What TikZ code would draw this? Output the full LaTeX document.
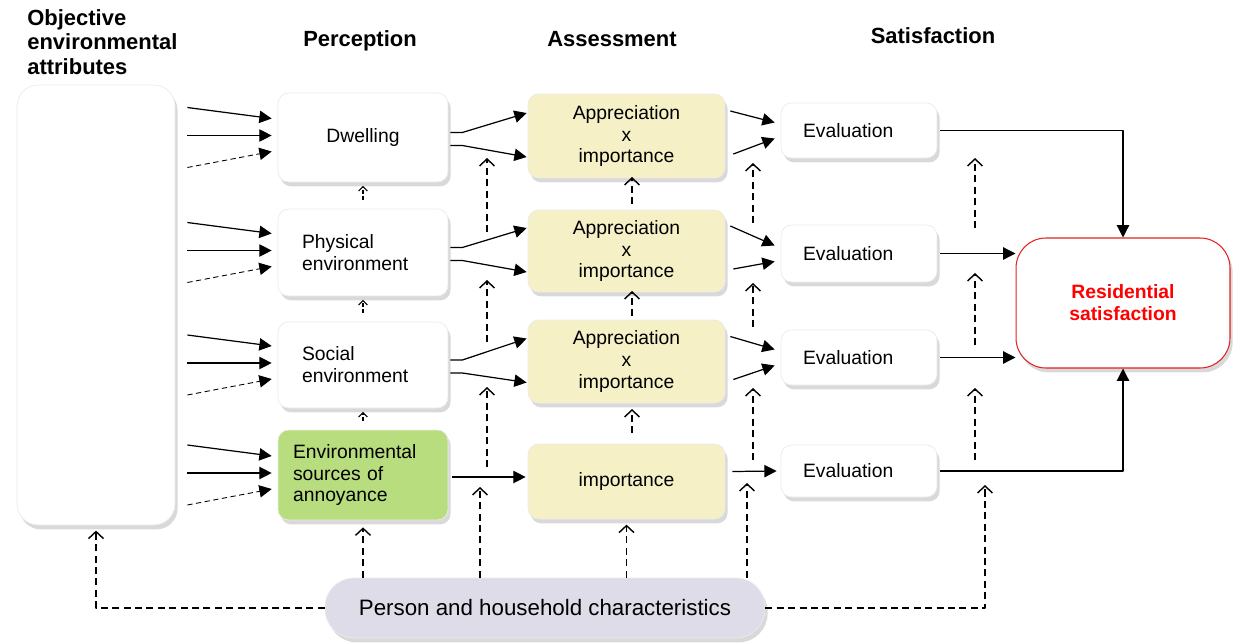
\documentclass[tikz,border=0pt]{standalone}
\usepackage{fontspec}
\setmainfont{Liberation Sans}
\usetikzlibrary{arrows.meta,shadows,calc}
\definecolor{boxgreen}{RGB}{184,221,126}
\definecolor{boxyellow}{RGB}{245,240,198}
\definecolor{boxgrey}{RGB}{222,220,232}
\definecolor{resred}{RGB}{225,35,35}
\newcommand \mydashup[3]
{
\coordinate (d1) at (#1,#2);
\coordinate (d2) at (#1,#3);
\draw[darr] (d1)--(d2);
}
\begin{document}
\begin{tikzpicture}[x=0.02cm, y=-0.02cm, line join=round,
  font=\fontsize{11}{12.5}\selectfont,
  box/.style={rounded corners=6pt, draw=black!8, fill=white, align=center, inner sep=2pt,
    drop shadow={shadow xshift=1.5pt, shadow yshift=-2.5pt, opacity=.3}},
  percbox/.style={box, inner xsep=0.48cm, text width=2.44cm, align=left},
  assbox/.style={box, fill=boxyellow, minimum width=3.94cm},
  evalbox/.style={box, inner xsep=0.44cm, text width=2.24cm, align=left, minimum height=1.1cm},
  head/.style={font=\fontsize{12.5}{13.9}\selectfont\bfseries},
  arr/.style={-{Triangle[length=7pt,width=7pt]}, line width=.7pt},
  darr/.style={dash pattern=on 4pt off 2.5pt, -{Straight Barb[length=4pt,width=8.5pt]}, line width=.8pt},
  tinyarr/.style={darr, -{Straight Barb[length=2.5pt,width=5pt]}, dash pattern=on 2pt off 1.5pt, line width=.6pt}]
\useasboundingbox (0,0) rectangle (1247,643);
% column titles
\node[head, align=left, anchor=north west, inner sep=0pt] (tobj) at (27,9) {Objective\\environmental\\attributes};
\node[head] (tperc) at (360,41) {Perception};
\node[head] (tass) at (612,39) {Assessment};
\node[head] (tsat) at (933,36) {Satisfaction};
% boxes
\node[box, rounded corners=12pt, minimum width=3.16cm, minimum height=8.8cm] (obj) at (96,305) {};
\node[percbox, align=center, minimum height=1.78cm] (dw) at (363,137.5) {Dwelling};
\node[percbox, minimum height=1.74cm] (ph) at (363,252.5) {Physical\\environment};
\node[percbox, minimum height=1.72cm] (so) at (363,365) {Social\\environment};
\node[percbox, inner xsep=0.3cm, text width=2.8cm, fill=boxgreen, minimum height=1.8cm] (en) at (363,475) {Environmental\\sources of\\annoyance};
\node[assbox, minimum height=1.68cm] (a1) at (626.5,136) {Appreciation\\x\\importance};
\node[assbox, minimum height=1.64cm] (a2) at (626.5,251) {Appreciation\\x\\importance};
\node[assbox, minimum height=1.66cm] (a3) at (626.5,361.5) {Appreciation\\x\\importance};
\node[assbox, minimum height=1.5cm] (a4) at (626.5,481.5) {importance};
\node[evalbox] (e1) at (859,130.5) {Evaluation};
\node[evalbox, minimum height=1.14cm] (e2) at (859,253.5) {Evaluation};
\node[evalbox] (e3) at (859,357.5) {Evaluation};
\node[evalbox, minimum height=1.04cm] (e4) at (859,471) {Evaluation};
\node[box, draw=resred, line width=.6pt, rounded corners=17pt, minimum width=4.28cm, minimum height=2.6cm,
  text=red, font=\fontsize{11}{12.5}\selectfont\bfseries] (res) at (1123,303) {Residential\\satisfaction};
\node[box, fill=boxgrey, rounded corners=16.5pt, minimum width=8.8cm, minimum height=1.2cm,
  font=\fontsize{12.7}{14}\selectfont] (pers) at (545,608) {Person and household characteristics};
% attributes to perception
\foreach \p in {dw,ph,so,en}{
  \draw[arr] ($(obj.east |- \p.west)+(12,-30)$) -- ($(\p.west)+(-6,-19)$);
  \draw[arr] ($(obj.east |- \p.west)+(12,-2)$) -- ($(\p.west)+(-6,-2)$);
  \draw[arr, line width=.5pt, dash pattern=on 3pt off 2pt] ($(obj.east |- \p.west)+(12,30)$) -- ($(\p.west)+(-6,14)$);
}
% perception to assessment
\foreach \p/\a in {dw/a1,ph/a2,so/a3}{
  \draw[arr] ($(\p.east)+(2,-5)$) -- ++(12,0) -- ($(\a.west)+(-1,-23)$);
  \draw[arr] ($(\p.east)+(2,8)$) -- ++(12,0) -- ($(\a.west)+(-1,21)$);
}
\draw[arr] ($(en.east)+(4,2)$) -- ($(a4.west)+(-2,-4.5)$);
% assessment to evaluation
\foreach \a/\e in {a1/e1,a2/e2,a3/e3}{
  \draw[arr] ($(\a.east)+(5,-25)$) -- ($(\e.west)+(-6,-8)$);
  \draw[arr] ($(\a.east)+(8,18)$) -- ($(\e.west)+(-6,8)$);
}
\draw[arr] ($(a4.east)+(7,-10)$) -- ($(e4.west)+(-4,0)$);
% evaluation to residential satisfaction
\draw[arr] ($(e1.east)+(3,0)$) -| (res.north);
\draw[arr] ($(e2.east)+(3,0)$) -- (e2.east -| res.west);
\draw[arr] ($(e3.east)+(3,0)$) -- (e3.east -| res.west);
\draw[arr] ($(e4.east)+(3,0)$) -| (res.south);
% dashed influences
\foreach \x/\ya/\yb in {487/232/158, 487/342/280, 487/467/387,
  632/204/177, 632/316/291, 632/433/409,
  753/223/163, 753/327/283, 753/460/388,
  975/228/158, 975/345/273, 975/460/388}{
  \mydashup{\x}{\ya}{\yb}
}
\draw[tinyarr, shorten <=5pt, shorten >=2pt] (ph.north) -- (dw.south);
\draw[tinyarr, shorten <=5pt, shorten >=2pt] (so.north) -- (ph.south);
\draw[tinyarr, shorten <=5pt, shorten >=2pt] (en.north) -- (so.south);
% person and household characteristics
\coordinate (ta) at (480,487);
\coordinate (tc) at (747,483);
\coordinate (td) at (985,485);
\draw[darr, shorten >=3pt] (pers.west) -| (obj.south);
\draw[darr] (pers.east) -| (td);
\draw[darr, shorten >=4pt] (pers.north -| en.south) -- (en.south);
\draw[darr] (pers.north -| ta) -- (ta);
\draw[darr, shorten >=3pt] (pers.north -| a4.south) -- (a4.south);
\draw[darr] (pers.north -| tc) -- (tc);
\end{tikzpicture}
\end{document}
